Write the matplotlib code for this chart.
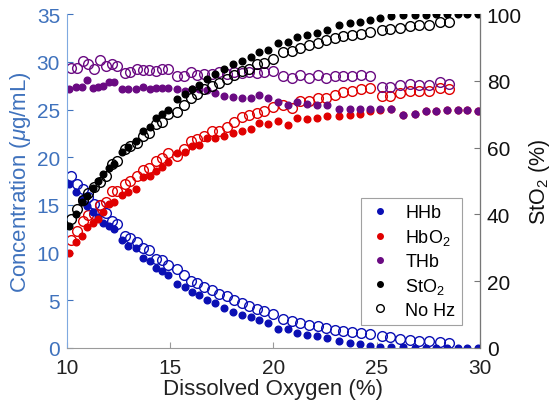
import matplotlib
matplotlib.use('Agg')
import matplotlib.pyplot as plt
import numpy as np

plt.rcParams['font.family'] = ['Liberation Sans', 'DejaVu Sans']
plt.rcParams['mathtext.fontset'] = 'custom'
plt.rcParams['mathtext.rm'] = 'Liberation Sans'
plt.rcParams['mathtext.it'] = 'Liberation Sans:italic'
plt.rcParams['mathtext.default'] = 'regular'

# dissolved oxygen (%) - filled points (Hz) and open points (No Hz)
x_hz = [10.08, 10.44, 10.71, 10.98, 11.24, 11.5, 11.76, 12.03, 12.28, 12.65,
        12.97, 13.34, 13.66, 14.0, 14.3, 14.6, 14.9, 15.34, 15.71, 16.08,
        16.4, 16.76, 17.15, 17.63, 18.05, 18.48, 18.9, 19.3, 19.73, 20.23,
        20.7, 21.15, 21.64, 22.1, 22.58, 23.18, 23.7, 24.19, 24.67, 25.16,
        25.72, 26.29, 26.85, 27.37, 27.9, 28.43, 28.92, 29.38, 29.9]
hhb = [17.2, 16.4, 15.6, 14.9, 14.3, 13.7, 13.1, 12.75, 12.5, 11.35,
       10.7, 10.45, 9.4, 9.15, 8.4, 8.1, 7.65, 6.7, 6.35, 5.9,
       5.6, 5.0, 4.7, 4.15, 3.8, 3.5, 3.2, 2.9, 2.6, 2.0,
       2.0, 1.57, 1.4, 1.22, 1.05, 0.75, 0.52, 0.42, 0.24, 0.14,
       0.07, 0.05, 0.03, 0.02, 0.01, 0.0, 0.0, 0.0, 0.0]
hbo2 = [10.0, 11.1, 11.7, 12.7, 13.1, 13.5, 14.3, 15.1, 15.25, 16.0,
        16.4, 16.7, 17.95, 18.0, 18.6, 19.0, 19.5, 20.4, 20.55, 21.2,
        21.3, 22.0, 22.05, 22.2, 22.5, 22.7, 22.95, 23.6, 23.45, 23.75,
        23.4, 24.1, 24.0, 24.1, 24.3, 24.3, 24.4, 24.55, 24.85, 24.9,
        25.05, 24.4, 24.5, 24.8, 24.8, 24.9, 24.9, 24.9, 24.8]
thb = [27.2, 27.4, 27.4, 28.1, 27.3, 27.4, 27.5, 27.9, 27.85, 27.2,
       27.2, 27.2, 27.4, 27.2, 27.3, 27.3, 27.3, 27.15, 26.9, 27.1,
       27.2, 27.0, 26.7, 26.4, 26.3, 26.2, 26.2, 26.5, 26.2, 25.8,
       25.5, 25.8, 25.6, 25.5, 25.5, 25.1, 25.05, 25.1, 25.1, 25.05,
       25.1, 24.4, 24.5, 24.8, 24.8, 24.9, 24.9, 24.9, 24.8]
sto2 = [36.5, 40.0, 43.6, 45.5, 47.8, 50.1, 52.1, 54.0, 55.1, 58.6,
        60.1, 62.0, 65.1, 66.1, 68.8, 70.0, 71.2, 74.6, 76.0, 77.7,
        78.7, 80.7, 82.0, 83.7, 85.2, 86.0, 87.3, 88.7, 89.3, 91.5,
        91.7, 93.3, 93.9, 94.5, 95.3, 96.7, 97.3, 97.7, 98.4, 99.0,
        99.5, 99.7, 99.8, 99.9, 100, 100, 100, 100, 100]

x_nohz = [10.17, 10.47, 10.78, 11.03, 11.32, 11.6, 11.87, 12.16, 12.41, 12.8,
          13.07, 13.37, 13.67, 13.99, 14.29, 14.61, 14.91, 15.33, 15.67, 16.0,
          16.31, 16.66, 17.02, 17.36, 17.73, 18.09, 18.46, 18.8, 19.19, 19.55,
          19.98, 20.45, 20.88, 21.28, 21.7, 22.16, 22.57, 22.98, 23.37, 23.79,
          24.23, 24.68, 25.24, 25.64, 26.13, 26.61, 27.06, 27.55, 28.06, 28.51]
hhb_n = [18.06, 17.2, 16.67, 15.8, 15.1, 15.0, 14.2, 13.35, 13.0, 11.7,
         11.5, 11.15, 10.45, 10.27, 9.33, 9.26, 8.7, 8.28, 7.65, 7.0,
         6.8, 6.4, 6.1, 5.7, 5.45, 5.0, 4.7, 4.37, 4.1, 3.9,
         3.6, 3.0, 2.86, 2.6, 2.44, 2.27, 2.06, 1.89, 1.75, 1.64,
         1.53, 1.47, 1.2, 1.1, 0.95, 0.85, 0.77, 0.77, 0.6, 0.5]
hbo2_n = [11.35, 12.3, 13.35, 13.9, 14.05, 15.0, 15.3, 16.5, 16.5, 17.2,
          17.5, 18.05, 18.7, 18.9, 19.6, 19.9, 20.4, 20.15, 20.9, 21.7,
          21.9, 22.25, 22.8, 22.8, 23.2, 23.7, 24.2, 24.4, 24.6, 24.8,
          25.3, 25.5, 25.2, 25.9, 25.85, 26.2, 26.2, 26.5, 26.8, 26.9,
          27.1, 27.3, 26.45, 26.45, 26.7, 26.9, 26.9, 26.9, 27.3, 27.15]
thb_n = [29.4, 29.4, 30.1, 29.8, 29.25, 30.2, 29.6, 29.8, 29.6, 28.8,
         28.9, 29.2, 29.1, 29.1, 29.06, 29.2, 29.25, 28.5, 28.55, 28.9,
         28.6, 28.7, 28.7, 28.9, 28.7, 28.97, 28.8, 28.97, 28.8, 28.97,
         29.06, 28.5, 28.3, 28.6, 28.3, 28.6, 28.3, 28.55, 28.55, 28.55,
         28.6, 28.5, 27.4, 27.4, 27.55, 27.7, 27.55, 27.55, 27.85, 27.7]
sto2_n = [38.5, 41.5, 44.3, 46.5, 48.1, 49.8, 51.6, 55.0, 56.1, 59.5,
          60.5, 61.5, 63.6, 64.5, 67.0, 67.8, 70.1, 70.6, 72.8, 74.8,
          76.0, 77.5, 78.5, 79.5, 80.5, 81.7, 83.0, 83.5, 85.0, 85.5,
          86.7, 88.7, 89.0, 90.0, 90.7, 91.5, 92.3, 93.0, 93.4, 93.7,
          94.0, 94.7, 95.3, 95.7, 96.0, 96.5, 96.7, 96.7, 97.7, 97.7]

c_hhb = '#0a0fb4'
c_hbo2 = '#e00000'
c_thb = '#6a0a82'
c_left = '#3f72bd'
c_grey = '#9a9a9a'

fig = plt.figure(figsize=(5.56, 4.10), dpi=100)
ax = fig.add_axes([0.1205, 0.149, 0.7425, 0.814])
ax2 = ax.twinx()

ms_f = 4.8
ms_o = 7.0
ax.plot(x_nohz, hhb_n, 'o', mfc='none', mec=c_hhb, ms=ms_o, mew=1.0)
ax.plot(x_nohz, hbo2_n, 'o', mfc='none', mec=c_hbo2, ms=ms_o, mew=1.0)
ax.plot(x_nohz, thb_n, 'o', mfc='none', mec=c_thb, ms=ms_o, mew=1.0)
ax.plot(x_hz, hhb, 'o', color=c_hhb, ms=ms_f)
ax.plot(x_hz, hbo2, 'o', color=c_hbo2, ms=ms_f)
ax.plot(x_hz, thb, 'o', color=c_thb, ms=ms_f)
ax2.plot(x_nohz, sto2_n, 'o', mfc='none', mec='black', ms=ms_o, mew=1.0)
ax2.plot(x_hz, sto2, 'o', color='black', ms=ms_f)

ax.set_xlim(10, 30)
ax.set_ylim(0, 35)
ax2.set_ylim(0, 100)
ax.set_xticks([10, 15, 20, 25, 30])
ax.set_yticks(np.arange(0, 36, 5))
ax2.set_yticks([0, 20, 40, 60, 80, 100])

for a in (ax, ax2):
    a.spines['top'].set_visible(False)
    a.tick_params(direction='in', labelsize=15, length=4)
ax.spines['left'].set_color('#7fa9e0')
ax.spines['bottom'].set_color(c_grey)
ax2.spines['right'].set_color('#777777')
ax2.spines['left'].set_visible(False)
ax2.spines['bottom'].set_visible(False)
ax.tick_params(axis='y', colors=c_left, pad=5)
ax.tick_params(axis='x', colors=c_grey, labelcolor='#222222', pad=7)
ax2.tick_params(axis='y', colors='#777777', labelcolor='#111111', pad=5)

ax.set_xlabel('Dissolved Oxygen (%)', fontsize=16, color='#222222', labelpad=1)
ax.set_ylabel('Concentration ($\\mathit{\\mu}$g/mL)', fontsize=16, color=c_left, labelpad=3)
ax2.set_ylabel('StO$_2$ (%)', fontsize=15.5, color='#111111', labelpad=4)

h = [plt.Line2D([], [], ls='none', marker='o', color=c_hhb, ms=4),
     plt.Line2D([], [], ls='none', marker='o', color=c_hbo2, ms=4),
     plt.Line2D([], [], ls='none', marker='o', color=c_thb, ms=4),
     plt.Line2D([], [], ls='none', marker='o', color='black', ms=4),
     plt.Line2D([], [], ls='none', marker='o', mfc='none', mec='black', ms=5.5, mew=1.0)]
leg = ax2.legend(h, ['HHb', 'HbO$_2$', 'THb', 'StO$_2$', 'No Hz'],
                 loc='lower right', bbox_to_anchor=(0.956, 0.069),
                 borderaxespad=0, fontsize=13, fancybox=False,
                 handlelength=1.4, handletextpad=0.7, labelspacing=0.32,
                 borderpad=0.35)
leg.get_frame().set_edgecolor('#8a8a8a')
leg.get_frame().set_linewidth(0.8)

fig.savefig('out.png', dpi=100)
